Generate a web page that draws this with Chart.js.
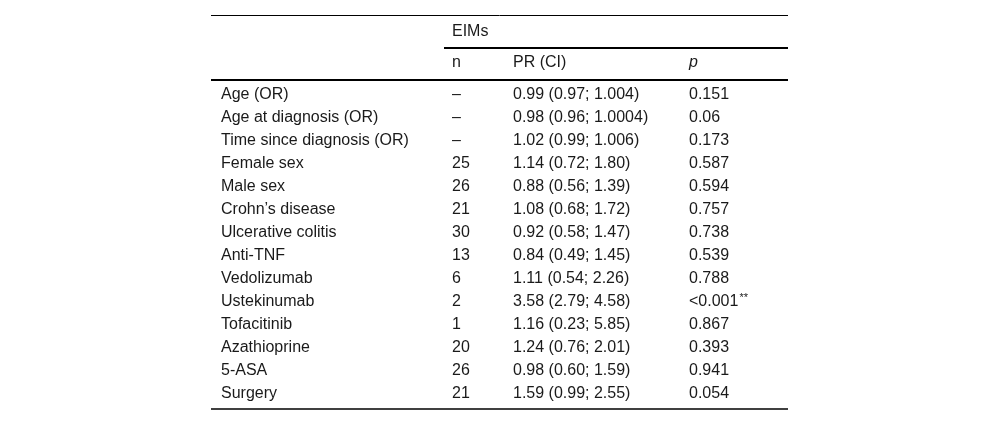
<!DOCTYPE html>
<html>
<head>
<meta charset="utf-8">
<script src="https://cdn.jsdelivr.net/npm/chart.js@4/dist/chart.umd.min.js"></script>
<style>
  html, body { margin: 0; padding: 0; background: #fff; }
  #wrap { width: 1000px; height: 425px; }
</style>
</head>
<body>
<div id="wrap"><canvas id="tbl" width="1000" height="425"></canvas></div>
<script>
// table rows
var rowLabels = ['Age (OR)', 'Age at diagnosis (OR)', 'Time since diagnosis (OR)', 'Female sex', 'Male sex',
  'Crohn\u2019s disease', 'Ulcerative colitis', 'Anti-TNF', 'Vedolizumab', 'Ustekinumab', 'Tofacitinib',
  'Azathioprine', '5-ASA', 'Surgery'];
var nValues = [null, null, null, 25, 26, 21, 30, 13, 6, 2, 1, 20, 26, 21];
var prValues = ['0.99 (0.97; 1.004)', '0.98 (0.96; 1.0004)', '1.02 (0.99; 1.006)', '1.14 (0.72; 1.80)',
  '0.88 (0.56; 1.39)', '1.08 (0.68; 1.72)', '0.92 (0.58; 1.47)', '0.84 (0.49; 1.45)', '1.11 (0.54; 2.26)',
  '3.58 (2.79; 4.58)', '1.16 (0.23; 5.85)', '1.24 (0.76; 2.01)', '0.98 (0.60; 1.59)', '1.59 (0.99; 2.55)'];
var pValues = ['0.151', '0.06', '0.173', '0.587', '0.594', '0.757', '0.738', '0.539', '0.788',
  '<0.001**', '0.867', '0.393', '0.941', '0.054'];
var groupTitle = 'EIMs';
var colHeaders = ['n', 'PR (CI)', 'p'];

var FONT = '16px "Liberation Sans", Arial, sans-serif';
var SUP_FONT = '11px "Liberation Sans", Arial, sans-serif';
var INK = '#1a1a1a';

// column positions on the x scale (0 = left rule end)
var colX = { label: 10, n: 241, pr: 302, p: 478 };

var tablePlugin = {
  id: 'tablePlugin',
  afterDraw: function(chart) {
    var ctx = chart.ctx;
    var xs = chart.scales.x;
    var ys = chart.scales.y;
    var area = chart.chartArea;
    ctx.save();
    ctx.font = FONT;
    ctx.fillStyle = INK;
    ctx.textBaseline = 'middle';
    ctx.textAlign = 'left';

    // body cells
    chart.data.labels.forEach(function(lbl, i) {
      var y = ys.getPixelForValue(i);
      ctx.fillText(lbl, xs.getPixelForValue(colX.label), y);
      var n = nValues[i];
      ctx.fillText(n === null ? '\u2013' : String(n), xs.getPixelForValue(colX.n), y);
      ctx.fillText(prValues[i], xs.getPixelForValue(colX.pr), y);
      // significance stars as superscript
      var pv = pValues[i];
      var m = pv.match(/^(.*?)(\*+)$/);
      var px = xs.getPixelForValue(colX.p);
      if (m) {
        ctx.fillText(m[1], px, y);
        var w = ctx.measureText(m[1]).width;
        ctx.font = SUP_FONT;
        ctx.fillText(m[2], px + w + 1, y - 4);
        ctx.font = FONT;
      } else {
        ctx.fillText(pv, px, y);
      }
    });

    // header
    var hy = area.top - 20;
    ctx.fillText(groupTitle, xs.getPixelForValue(colX.n), area.top - 51);
    ctx.fillText(colHeaders[0], xs.getPixelForValue(colX.n), hy);
    ctx.fillText(colHeaders[1], xs.getPixelForValue(colX.pr), hy);
    ctx.font = 'italic ' + FONT;
    ctx.fillText(colHeaders[2], xs.getPixelForValue(colX.p), hy);

    // rules
    ctx.strokeStyle = '#000';
    function rule(x0, x1, y, w) {
      ctx.lineWidth = w;
      ctx.beginPath();
      ctx.moveTo(x0, y);
      ctx.lineTo(x1, y);
      ctx.stroke();
    }
    rule(area.left, area.right, area.top - 67.5, 1);
    rule(xs.getPixelForValue(colX.n) - 8, area.right, area.top - 35, 2);
    rule(area.left, area.right, area.top - 3, 2);
    rule(area.left, area.right, area.bottom + 4, 1.5);
    ctx.restore();
  }
};

new Chart(document.getElementById('tbl'), {
  type: 'bar',
  data: {
    labels: rowLabels,
    datasets: [{ data: [], backgroundColor: 'rgba(0,0,0,0)' }]
  },
  options: {
    indexAxis: 'y',
    responsive: false,
    animation: false,
    devicePixelRatio: 1,
    layout: { padding: { left: 211, right: 212, top: 83, bottom: 20 } },
    plugins: { legend: { display: false }, tooltip: { enabled: false } },
    scales: {
      x: { type: 'linear', display: false, min: 0, max: 577 },
      y: { type: 'category', display: false, offset: true }
    }
  },
  plugins: [tablePlugin]
});
</script>
</body>
</html>
